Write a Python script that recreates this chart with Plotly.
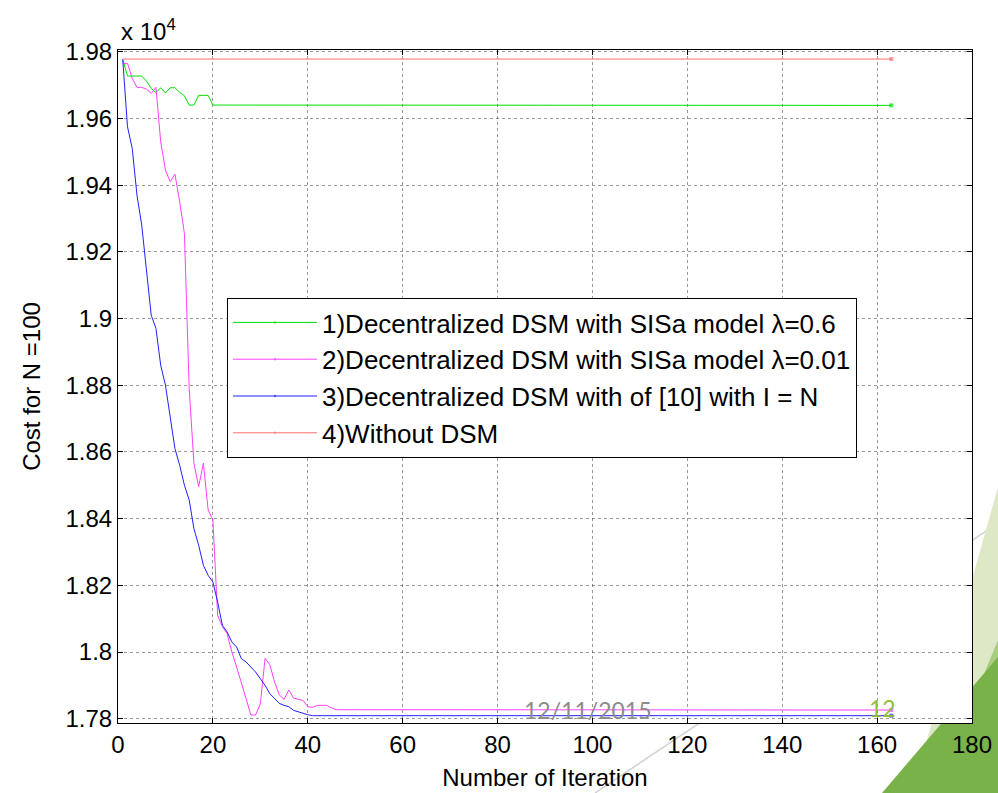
import plotly.graph_objects as go

# ---- data (values in units of 10^4) ----
red_x = [1, 163]
red_y = [1.9778, 1.9778]

green_x = [1, 2, 3, 4, 5, 6, 7, 8, 9, 10, 11, 12, 13, 14, 15, 16, 17, 18, 19, 20, 163]
green_y = [1.9777, 1.9727, 1.9727, 1.9727, 1.9727, 1.9712, 1.9690, 1.9677, 1.9692, 1.9676,
           1.9692, 1.9692, 1.9678, 1.9668, 1.9640, 1.9640, 1.9669, 1.9669, 1.9669, 1.9640, 1.9639]

blue_x = list(range(1, 42)) + [163]
blue_y = [1.9777, 1.9575, 1.9510, 1.9370, 1.9280, 1.9140, 1.9010, 1.8970, 1.8860, 1.8800,
          1.8700, 1.8610, 1.8560, 1.8500, 1.8456, 1.8370, 1.8320, 1.8260, 1.8230, 1.8210,
          1.8150, 1.8080, 1.8060, 1.8030, 1.8015, 1.7980, 1.7970, 1.7956, 1.7940, 1.7920,
          1.7900, 1.7875, 1.7860, 1.7846, 1.7840, 1.7836, 1.7825, 1.7820, 1.7815, 1.7812,
          1.7809, 1.7809]

pink_x = list(range(1, 47)) + [163]
pink_y = [1.9765, 1.9765, 1.9720, 1.9693, 1.9693, 1.9688, 1.9675, 1.9693, 1.9530, 1.9445,
          1.9410, 1.9433, 1.9350, 1.9255, 1.8790, 1.8566, 1.8496, 1.8566, 1.8426, 1.8396,
          1.8110, 1.8076, 1.8055, 1.8000, 1.7955, 1.7910, 1.7860, 1.7811, 1.7811, 1.7845,
          1.7981, 1.7962, 1.7910, 1.7871, 1.7858, 1.7886, 1.7862, 1.7858, 1.7855, 1.7836,
          1.7834, 1.7840, 1.7840, 1.7840, 1.7832, 1.7827, 1.7826]

names = ["1)Decentralized DSM with SISa model \u03bb=0.6",
         "2)Decentralized DSM with SISa model \u03bb=0.01",
         "3)Decentralized DSM with of [10] with I = N",
         "4)Without DSM"]
colors = ["#00e000", "#ff40ff", "#2020ff", "#ff7070"]
x_ticks = [0, 20, 40, 60, 80, 100, 120, 140, 160, 180]
y_ticks = [1.78, 1.80, 1.82, 1.84, 1.86, 1.88, 1.90, 1.92, 1.94, 1.96, 1.98]
y_tick_text = ["1.78", "1.8", "1.82", "1.84", "1.86", "1.88", "1.9", "1.92", "1.94", "1.96", "1.98"]

series = [(green_x, green_y), (pink_x, pink_y), (blue_x, blue_y), (red_x, red_y)]

fig = go.Figure()
for (xs, ys), nm, c in zip(series, names, colors):
    n = len(xs)
    fig.add_trace(go.Scatter(
        x=xs, y=ys, name=nm, mode="lines+markers",
        line=dict(color=c, width=1),
        marker=dict(color=c, size=[0] * (n - 1) + [4], symbol="square", line=dict(width=0)),
    ))

# plot area in pixels
L, R, T, B = 118, 972, 50, 723
W, H = 998, 793


def px(x):
    return (x - L) / (R - L)


def py(y):
    return (B - y) / (B - T)


shapes = [
    # slide decoration (behind the plot area)
    dict(type="line", xref="paper", yref="paper", x0=px(595), y0=py(793), x1=px(1010), y1=py(515),
         line=dict(color="#d0d0d0", width=1.5), layer="below"),
    dict(type="path", xref="paper", yref="paper", layer="below", line=dict(width=0),
         fillcolor="#dde9c6",
         path=f"M{px(998)},{py(487)} L{px(912)},{py(793)} L{px(998)},{py(793)} Z"),
    dict(type="path", xref="paper", yref="paper", layer="below", line=dict(width=0),
         fillcolor="#a9cd7e",
         path=f"M{px(998)},{py(640)} L{px(935)},{py(793)} L{px(998)},{py(793)} Z"),
    dict(type="path", xref="paper", yref="paper", layer="below", line=dict(width=0),
         fillcolor="#7ab24a",
         path=f"M{px(998)},{py(657)} L{px(882)},{py(793)} L{px(998)},{py(793)} Z"),
    # white plot area covering the decoration
    dict(type="rect", xref="paper", yref="paper", x0=0, y0=0, x1=1, y1=1,
         fillcolor="white", line=dict(width=0), layer="below"),
]

font_main = "Liberation Sans, Arial, sans-serif"

fig.update_layout(
    width=W, height=H,
    margin=dict(l=L, r=W - R, t=T, b=H - B, autoexpand=False),
    paper_bgcolor="white", plot_bgcolor="rgba(0,0,0,0)",
    font=dict(family=font_main, size=24, color="black"),
    showlegend=True,
    legend=dict(x=px(227), y=py(298), xanchor="left", yanchor="top",
                bgcolor="white", bordercolor="black", borderwidth=1,
                font=dict(family=font_main, size=26), itemwidth=84,
                tracegroupgap=0),
    shapes=shapes,
    annotations=[
        dict(text="x 10<sup>4</sup>", xref="paper", yref="paper", x=px(119), y=py(30),
             xanchor="left", yanchor="middle", showarrow=False,
             font=dict(family=font_main, size=24)),
        dict(text="12/11/2015", xref="paper", yref="paper", x=px(588), y=py(710),
             xanchor="center", yanchor="middle", showarrow=False,
             font=dict(family="Lato, sans-serif", size=23, color="#8c8c8c")),
        dict(text="12", xref="paper", yref="paper", x=px(882), y=py(708),
             xanchor="center", yanchor="middle", showarrow=False,
             font=dict(family="Lato, sans-serif", size=23, color="#8fbf3a")),
    ],
)

fig.update_xaxes(
    range=[0, 180], tickvals=x_ticks, ticks="inside", ticklen=5, tickcolor="black",
    showline=True, linecolor="black", linewidth=1, mirror="allticks",
    showgrid=True, gridcolor="rgba(0,0,0,0.4)", griddash="dot", gridwidth=1,
    zeroline=False, automargin=False,
    title=dict(text="Number of Iteration", standoff=12, font=dict(size=24)),
    tickfont=dict(size=24),
)
fig.update_yaxes(
    range=[1.77871, 1.98051], tickvals=y_ticks, ticktext=y_tick_text, ticks="inside", ticklen=5,
    tickcolor="black", showline=True, linecolor="black", linewidth=1, mirror="allticks",
    showgrid=True, gridcolor="rgba(0,0,0,0.4)", griddash="dot", gridwidth=1,
    zeroline=False, automargin=False,
    title=dict(text="Cost for N =100", standoff=18, font=dict(size=24)),
    tickfont=dict(size=24),
)

fig.write_html("out.html", config={"displayModeBar": False},
               post_script="document.body.style.margin='0';")
